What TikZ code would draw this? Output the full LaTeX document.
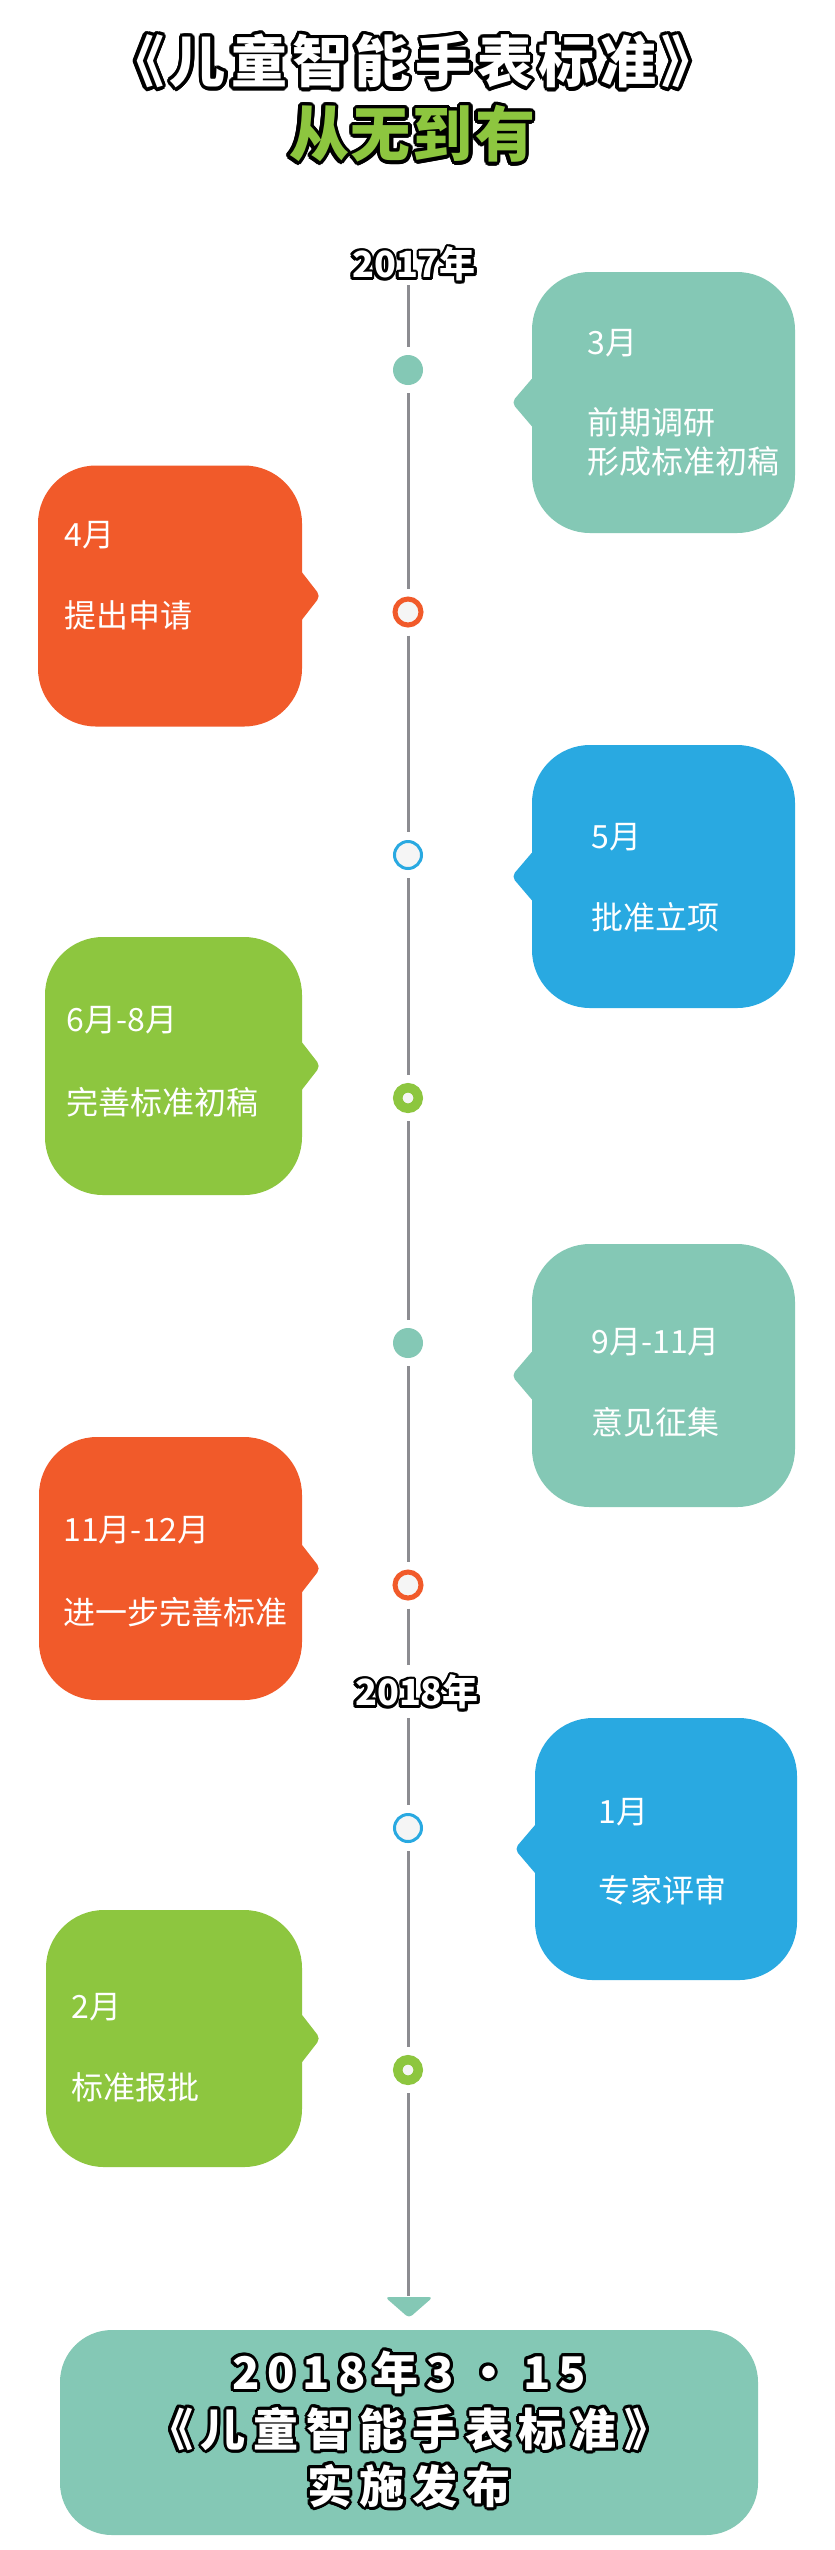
\documentclass[tikz,border=0pt]{standalone}
\usepackage{fontspec}
\setmainfont{Noto Sans CJK SC}
\usetikzlibrary{calc}
\definecolor{cteal}{HTML}{84C8B5}
\definecolor{corange}{HTML}{F15A2A}
\definecolor{cblue}{HTML}{29A9E1}
\definecolor{cgreen}{HTML}{8DC63F}
\definecolor{cline}{HTML}{8C8C91}
\definecolor{cinner}{HTML}{F5F5F5}
\newcommand\ks{\kern4pt}
\newcommand\kt{\kern2.75pt}
\newcommand\ptrW[2]{\fill[#2, rounded corners=2.5pt] ($(#1.west)+(3,-27)$) -- ($(#1.west)+(-20,0)$) -- ($(#1.west)+(3,27)$) -- cycle;}
\newcommand\ptrE[2]{\fill[#2, rounded corners=2.5pt] ($(#1.east)+(-3,-27)$) -- ($(#1.east)+(18,0)$) -- ($(#1.east)+(-3,27)$) -- cycle;}
\tikzset{
 tl/.style={draw=cline, line width=1.5pt},
 gapb/.style={shorten <=4pt, shorten >=4pt},
 gaps/.style={shorten <=4pt},
 gape/.style={shorten >=4pt},
 bub/.style={rectangle, rounded corners=29pt, minimum width=131.5pt, minimum height=130.5pt, inner sep=0pt},
 mon/.style={text=white, font=\fontsize{16}{19.5}\selectfont, anchor=west, align=left, inner sep=0pt},
 dteal/.style={circle, fill=cteal, minimum size=15pt, inner sep=0pt},
 rorange/.style={circle, draw=corange, line width=2.5pt, fill=cinner, minimum size=13pt, inner sep=0pt},
 rblue/.style={circle, draw=cblue, line width=1.5pt, fill=cinner, minimum size=13.5pt, inner sep=0pt},
 rgreen/.style={circle, draw=cgreen, line width=4.75pt, fill=cinner, minimum size=10.25pt, inner sep=0pt},
 ttlA/.style={font=\fontsize{28}{34}\selectfont\bfseries, inner sep=0pt},
 ttlB/.style={font=\fontsize{30}{36}\selectfont\bfseries, inner sep=0pt},
 yearlbl/.style={font=\fontsize{18}{22}\selectfont\bfseries, inner sep=0pt},
 fintext/.style={font=\fontsize{22.5}{28.5}\selectfont\bfseries, inner sep=0pt, align=center},
}
\begin{document}
\begin{tikzpicture}[x=0.5pt,y=-0.5pt]
\useasboundingbox (0,0) rectangle (835,2550);
\fill[white] (0,0) rectangle (835,2550);

% titles (outline made of offset copies)
\foreach \a in {0,20,...,340}
  \node[ttlA, text=black] (tA\a) at ($(413,61)+(\a:3.5)$) {《\kt 儿\kt 童\kt 智\kt 能\kt 手\kt 表\kt 标\kt 准\kt 》};
\node[ttlA, text=white] (titleA) at (413,61) {《\kt 儿\kt 童\kt 智\kt 能\kt 手\kt 表\kt 标\kt 准\kt 》};
\foreach \a in {0,20,...,340}
  \node[ttlB, text=black] (tB\a) at ($(412,134)+(\a:3.5)$) {从\kern1pt 无\kern1pt 到\kern1pt 有};
\node[ttlB, text=cgreen] (titleB) at (412,134) {从\kern1pt 无\kern1pt 到\kern1pt 有};

% year labels
\foreach \a in {0,30,...,330}
  \node[yearlbl, text=black] (yA\a) at ($(414,264)+(\a:2.6)$) {2017年};
\node[yearlbl, text=white] (y2017) at (414,264) {2017年};
\foreach \a in {0,30,...,330}
  \node[yearlbl, text=black] (yB\a) at ($(417,1692)+(\a:2.6)$) {2018年};
\node[yearlbl, text=white] (y2018) at (417,1692) {2018年};

% timeline dots
\node[dteal] (d1) at (408,370) {};
\node[rorange] (d2) at (408,612) {};
\node[rblue] (d3) at (408,855) {};
\node[rgreen] (d4) at (408,1098) {};
\node[dteal] (d5) at (408,1343) {};
\node[rorange] (d6) at (408,1585) {};
\node[rblue] (d7) at (408,1828) {};
\node[rgreen] (d8) at (408,2070) {};
\coordinate (top) at (408,285);
\coordinate (g1) at (408,1665);
\coordinate (g2) at (408,1718);
\coordinate (bot) at (408,2296);

\draw[tl, gape] (top) -- (d1);
\draw[tl, gapb] (d1) -- (d2);
\draw[tl, gapb] (d2) -- (d3);
\draw[tl, gapb] (d3) -- (d4);
\draw[tl, gapb] (d4) -- (d5);
\draw[tl, gapb] (d5) -- (d6);
\draw[tl, gaps] (d6) -- (g1);
\draw[tl, gape] (g2) -- (d7);
\draw[tl, gapb] (d7) -- (d8);
\draw[tl, gaps] (d8) -- (bot);

% bubbles
\node[bub, fill=cteal] (b1) at (663.5,402.5) {};
\ptrW{b1}{cteal}
\node[mon] (t1a) at (587,343) {3月};
\node[mon] (t1b) at (587,441.5) {前期调研\\形成标准初稿};

\node[bub, fill=corange, minimum width=132pt] (b2) at (170,596) {};
\ptrE{b2}{corange}
\node[mon] (t2a) at (64,535) {4月};
\node[mon] (t2b) at (64,615) {提出申请};

\node[bub, fill=cblue, minimum height=131.5pt] (b3) at (663.5,876.5) {};
\ptrW{b3}{cblue}
\node[mon] (t3a) at (591,837) {5月};
\node[mon] (t3b) at (591,917) {批准立项};

\node[bub, fill=cgreen, minimum width=128.5pt, minimum height=129pt] (b4) at (173.5,1066) {};
\ptrE{b4}{cgreen}
\node[mon] (t4a) at (66,1020) {6月-8月};
\node[mon] (t4b) at (66,1102) {完善标准初稿};

\node[bub, fill=cteal, minimum height=131.5pt] (b5) at (663.5,1375.5) {};
\ptrW{b5}{cteal}
\node[mon] (t5a) at (591,1342) {9月-11月};
\node[mon] (t5b) at (591,1422) {意见征集};

\node[bub, fill=corange, minimum height=131.5pt] (b6) at (170.5,1568.5) {};
\ptrE{b6}{corange}
\node[mon] (t6a) at (63,1530) {11月-12月};
\node[mon] (t6b) at (63,1612) {进一步完善标准};

\node[bub, fill=cblue, minimum width=131pt, minimum height=131pt] (b7) at (666,1849) {};
\ptrW{b7}{cblue}
\node[mon] (t7a) at (598,1812) {1月};
\node[mon] (t7b) at (598,1890) {专家评审};

\node[bub, fill=cgreen, minimum width=128pt, minimum height=128.5pt] (b8) at (174,2038.5) {};
\ptrE{b8}{cgreen}
\node[mon] (t8a) at (71,2007) {2月};
\node[mon] (t8b) at (71,2087) {标准报批};

% arrow head and final box
\fill[cteal, rounded corners=2pt] (385,2297) -- (433,2297) -- (409,2318) -- cycle;
\node[rectangle, fill=cteal, rounded corners=26pt, minimum width=349pt, minimum height=102.5pt, inner sep=0pt] (final) at (409,2432.5) {};
\foreach \a in {0,20,...,340}
  \node[fintext, text=black] (fo\a) at ($(409,2429)+(\a:3)$) {2\ks 0\ks 1\ks 8\ks 年\ks 3\ks\kern2pt ·\kern2pt\ks 1\ks 5\\《\ks 儿\ks 童\ks 智\ks 能\ks 手\ks 表\ks 标\ks 准\ks 》\\实\ks 施\ks 发\ks 布};
\node[fintext, text=white] (ftext) at (409,2429) {2\ks 0\ks 1\ks 8\ks 年\ks 3\ks\kern2pt ·\kern2pt\ks 1\ks 5\\《\ks 儿\ks 童\ks 智\ks 能\ks 手\ks 表\ks 标\ks 准\ks 》\\实\ks 施\ks 发\ks 布};
\end{tikzpicture}
\end{document}
